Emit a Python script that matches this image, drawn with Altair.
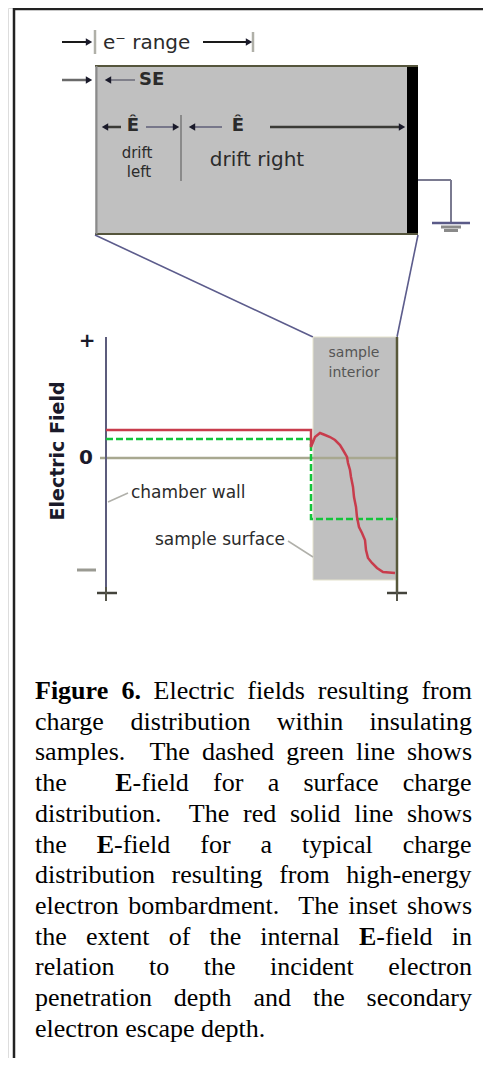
import re
import altair as alt
import pandas as pd

# ---------------- page coordinate system (pixels of the reference) ----------------
X0, X1 = 8, 483
Y0, Y1 = 8, 1058
xs = alt.Scale(domain=[X0, X1], nice=False, zero=False)
ys = alt.Scale(domain=[Y0, Y1], nice=False, zero=False, reverse=True)

# ---------------- geometry arrays ----------------
frame_lines = [(14, 8, 14, 1058), (13, 9, 483, 9)]

inset_fill = [(95, 65, 418, 235)]
inset_bar = [(407, 67, 418, 233)]
inset_edge_dark = [(95, 66, 418, 66), (95, 234, 418, 234)]
inset_edge_grey = [(96.5, 66, 96.5, 234)]

ground_wire = [(418, 180, 451, 180), (451, 180, 451, 223)]
ground_bars = [(432, 223, 470, 223)]
ground_foot = [(441, 227, 461, 227), (444, 230.5, 458, 230.5)]

range_lines = [(62, 42, 87, 42), (203, 42, 247, 42)]
range_bars = [(95, 30, 95, 54), (253, 32, 253, 52)]
se_outer = [(62, 80, 87, 80)]
se_inner = [(110, 80, 135, 80)]
field_lines_dark = [(106, 127, 121, 127), (270, 127, 399, 127)]
field_lines_grey = [(146, 127, 173, 127), (193, 127, 222, 127)]
divider = [(181, 115, 181, 181)]

heads_right = [(89, 42), (249, 42), (89, 80), (176, 127), (402, 127)]
heads_left = [(108, 80), (105, 127), (192, 127)]

zoom_lines = [(95, 235, 313, 337), (418, 235, 397, 337)]

sample_fill = [(313, 337, 397, 580)]
left_axis = [(106, 337, 106, 590)]
right_axis = [(397, 337, 397, 592)]
zero_line = [(100, 458, 397, 458)]
minus_tick = [(77, 570, 96, 570)]
bottom_caps = [(97, 593, 117, 593), (387, 593, 407, 593)]
bottom_stems = [(106, 587, 106, 601), (397, 590, 397, 601)]
leaders = [(108, 502, 128, 493), (288, 541, 313, 557)]

red_x = [106, 311, 311, 315, 320, 325, 330, 335, 340, 343, 347, 348, 350, 351, 353,
         354, 356, 357, 359, 362, 365, 366, 368, 372, 377, 383, 395]
red_y = [430, 430, 447, 437, 433, 435, 437, 440, 445, 450, 457, 463, 470, 477, 487,
         497, 507, 517, 527, 533, 540, 550, 558, 563, 568, 572, 573]
green_x = [106, 311, 311, 397]
green_y = [439, 439, 519, 519]

labels_big = [("e⁻ range", 103, 43, "left"), ("drift right", 257, 160, "center")]
labels_mid = [("chamber wall", 131, 493, "left"), ("sample surface", 285, 540, "right")]
labels_drift = [("drift", 137, 153, "center"), ("left", 139, 172, "center")]
labels_hat = [("Ê", 133, 126, "center"), ("Ê", 238, 126, "center"), ("SE", 139, 80, "left")]
labels_small = [("sample", 354, 353, "center"), ("interior", 354, 373, "center")]
axis_marks = [("+", 87, 341, "center"), ("0", 86, 458, "center")]
axis_title = [("Electric Field", 58, 451, "center")]

caption_lines = [
    "*Figure 6.* Electric fields resulting from",
    "charge distribution within insulating",
    "samples.  The dashed green line shows",
    "the  *E*-field for a surface charge",
    "distribution.  The red solid line shows",
    "the *E*-field for a typical charge",
    "distribution resulting from high-energy",
    "electron bombardment.  The inset shows",
    "the extent of the internal *E*-field in",
    "relation to the incident electron",
    "penetration depth and the secondary",
    "electron escape depth.",
]

# ---------------- caption layout (justified, Times metrics) ----------------
REG = dict(zip("abcdefghijklmnopqrstuvwxyz",
               [444, 500, 444, 500, 444, 333, 500, 500, 278, 278, 500, 278, 778,
                500, 500, 500, 500, 333, 389, 278, 500, 500, 722, 500, 500, 444]))
REG.update({" ": 250, ".": 250, "-": 333, ",": 250, "E": 611, "F": 556, "T": 611, "6": 500})
BOLD = dict(REG)
BOLD.update({"F": 611, "u": 556, "r": 444, "E": 667, "g": 500, "e": 444})
FS = 26
LEFT, RIGHT = 35, 472
BASE0, LEAD = 699, 30.7


def width(s, bold):
    tab = BOLD if bold else REG
    return sum(tab.get(c, 500) for c in s) * FS / 1000.0


rows = []
for li, line in enumerate(caption_lines):
    parts = re.split(r"( +)", line)
    words, gaps = [], []
    bold = False
    for p in parts:
        if p.startswith(" "):
            gaps.append(len(p))
            continue
        segs_ = []
        for k, chunk in enumerate(p.split("*")):
            if k > 0:
                bold = not bold
            if chunk:
                segs_.append((chunk, bold))
        words.append(segs_)
    natural = sum(width(t, b) for w in words for t, b in w)
    nsp = sum(gaps)
    sp = width(" ", False)
    last = li == len(caption_lines) - 1
    extra = 0 if last or nsp == 0 else (RIGHT - LEFT - natural - nsp * sp) / nsp
    x = LEFT
    for wi, w in enumerate(words):
        for t, b in w:
            rows.append({"t": t, "x": x, "y": BASE0 + li * LEAD, "bold": b})
            x += width(t, b)
        if wi < len(gaps):
            x += gaps[wi] * (sp + extra)
cap = pd.DataFrame(rows)


# ---------------- helpers ----------------
def segs(rows_, color, w, dash=None):
    df = pd.DataFrame(rows_, columns=["x", "y", "x2", "y2"])
    kw = dict(color=color, strokeWidth=w)
    if dash:
        kw["strokeDash"] = dash
    return alt.Chart(df).mark_rule(**kw).encode(
        x=alt.X("x:Q", scale=xs, axis=None), y=alt.Y("y:Q", scale=ys, axis=None),
        x2="x2:Q", y2="y2:Q")


def rects(rows_, color, stroke=None):
    df = pd.DataFrame(rows_, columns=["x", "y", "x2", "y2"])
    kw = dict(color=color)
    if stroke:
        kw.update(stroke=stroke, strokeWidth=1)
    return alt.Chart(df).mark_rect(**kw).encode(
        x=alt.X("x:Q", scale=xs, axis=None), y=alt.Y("y:Q", scale=ys, axis=None),
        x2="x2:Q", y2="y2:Q")


def path(xv, yv, color, w, dash=None):
    df = pd.DataFrame({"x": xv, "y": yv, "i": range(len(xv))})
    kw = dict(color=color, strokeWidth=w)
    if dash:
        kw["strokeDash"] = dash
    return alt.Chart(df).mark_line(**kw).encode(
        x=alt.X("x:Q", scale=xs, axis=None), y=alt.Y("y:Q", scale=ys, axis=None),
        order="i:Q")


def heads(rows_, shape, color):
    df = pd.DataFrame(rows_, columns=["x", "y"])
    return alt.Chart(df).mark_point(shape=shape, filled=True, color=color, size=55, opacity=1).encode(
        x=alt.X("x:Q", scale=xs, axis=None), y=alt.Y("y:Q", scale=ys, axis=None))


def labels(rows_, size, color="#2b2b2b", weight="normal", angle=0, font="DejaVu Sans"):
    df = pd.DataFrame(rows_, columns=["t", "x", "y", "a"])
    out = []
    for a in ["left", "center", "right"]:
        sub = df[df["a"] == a]
        if len(sub) == 0:
            continue
        out.append(alt.Chart(sub).mark_text(
            align=a, baseline="middle", font=font, fontSize=size, fontWeight=weight,
            color=color, angle=angle).encode(
            x=alt.X("x:Q", scale=xs, axis=None), y=alt.Y("y:Q", scale=ys, axis=None),
            text="t:N"))
    return out


layers = [
    segs(frame_lines, "#222222", 2.5),
    rects(inset_fill, "#c0c0c0"),
    rects(inset_bar, "#000000"),
    segs(inset_edge_dark, "#55553c", 2),
    segs(inset_edge_grey, "#8a8a8a", 2),
    segs(ground_wire, "#7a7a90", 2),
    segs(ground_bars, "#5a5a88", 2.5),
    segs(ground_foot, "#8a8a8a", 3),
    segs(range_lines, "#1a1a1a", 2),
    segs(range_bars, "#b0b0a8", 2.5),
    segs(se_outer, "#6a6a6a", 2.5),
    segs(se_inner, "#80808a", 2),
    segs(field_lines_dark, "#3a3a36", 2.5),
    segs(field_lines_grey, "#77778a", 2),
    segs(divider, "#8a8a8a", 2),
    heads(heads_right, "triangle-right", "#1a1a2a"),
    heads(heads_left, "triangle-left", "#1a1a2a"),
    segs(zoom_lines, "#5c5c8c", 1.6),
    rects(sample_fill, "#c0c0c0", stroke="#e4e2cc"),
    segs(zero_line, "#a8a890", 2.5),
    segs(left_axis, "#5c5c7c", 2),
    segs(right_axis, "#58583a", 2.5),
    segs(minus_tick, "#9a9a92", 3),
    segs(bottom_caps, "#44443c", 2.5),
    segs(bottom_stems, "#55554a", 2),
    segs(leaders, "#b0b0aa", 1.5),
    path(green_x, green_y, "#12c43a", 2.5, dash=[7, 3]),
    path(red_x, red_y, "#c83c4c", 2.5),
]
layers += labels(labels_big, 20)
layers += labels(labels_mid, 17)
layers += labels(labels_drift, 15)
layers += labels(labels_hat, 18, weight="bold")
layers += labels(labels_small, 14, color="#555555")
layers += labels(axis_marks, 20, color="#1a1a2a", weight="bold")
layers += labels(axis_title, 19, color="#1a1a2a", weight="bold", angle=270)

for b in [False, True]:
    sub = cap[cap["bold"] == b]
    layers.append(alt.Chart(sub).mark_text(
        align="left", baseline="alphabetic", font="Liberation Serif", fontSize=FS,
        fontWeight="bold" if b else "normal", color="#000000").encode(
        x=alt.X("x:Q", scale=xs, axis=None), y=alt.Y("y:Q", scale=ys, axis=None), text="t:N"))

chart = alt.layer(*layers).properties(
    width=X1 - X0, height=Y1 - Y0, padding=0, autosize=alt.AutoSizeParams(type="none")
).configure_view(strokeWidth=0).configure(background="white")

chart.save("out.html", embed_options={"renderer": "svg", "actions": False})
